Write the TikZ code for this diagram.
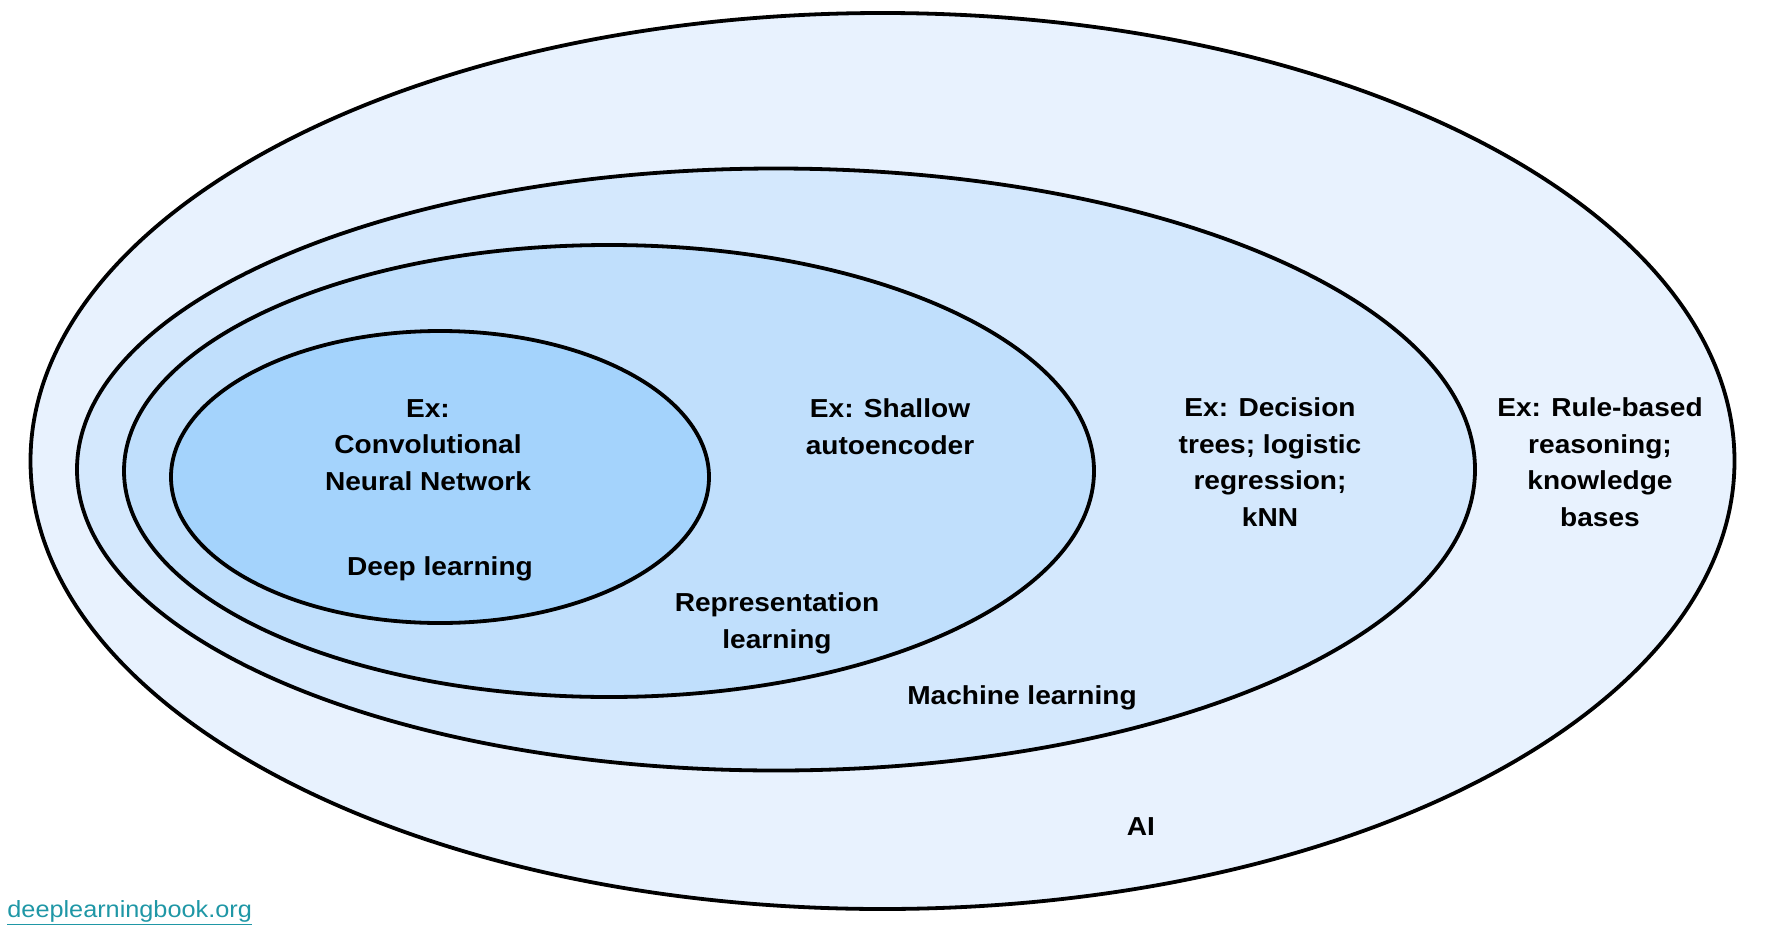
\documentclass[tikz,border=0pt]{standalone}
\usepackage{fontspec}
\setmainfont{Liberation Sans}[FakeStretch=1.08]
\usetikzlibrary{shapes.geometric}
\definecolor{aiC}{HTML}{E8F2FE}
\definecolor{mlC}{HTML}{D4E8FD}
\definecolor{rlC}{HTML}{C0DFFC}
\definecolor{dlC}{HTML}{A4D3FC}
\definecolor{linkC}{HTML}{1F97A6}
\tikzset{
  x=0.5pt, y=-0.5pt,
  region/.style={ellipse, draw=black, line width=1.9pt, inner sep=0pt, outer sep=0pt},
  lbl/.style={align=center, anchor=base, inner sep=0pt,
    font=\fontsize{13}{18.2}\selectfont\bfseries},
}
\begin{document}
\begin{tikzpicture}
\useasboundingbox (0,0) rectangle (1766,926);
\node[region, fill=aiC, minimum width=852pt, minimum height=448pt] (ai) at (882.5,461) {};
\node[region, fill=mlC, minimum width=699pt, minimum height=301pt] (ml) at (776,469.5) {};
\node[region, fill=rlC, minimum width=485pt, minimum height=226pt] (rl) at (609,471) {};
\node[region, fill=dlC, minimum width=269pt, minimum height=146pt] (dl) at (440,477) {};

\node[lbl] (cnn) at (428,490) {Ex:\\Convolutional\\Neural Network};
\node[lbl] (dlt) at (440,575) {Deep learning};
\node[lbl] (sae) at (890,454) {Ex: Shallow\\autoencoder};
\node[lbl] (rlt) at (777,648) {Representation\\learning};
\node[lbl] (dt) at (1270,526) {Ex: Decision\\trees; logistic\\regression;\\kNN};
\node[lbl] (mlt) at (1022,704) {Machine learning};
\node[lbl] (rb) at (1600,526) {Ex: Rule-based\\reasoning;\\knowledge\\bases};
\node[lbl] (ait) at (1141,835) {AI};
\node[anchor=base west, inner sep=0pt, text=linkC, font=\fontsize{11.7}{14}\selectfont] (url) at (7,917) {\underline{deeplearningbook.org}};
\end{tikzpicture}
\end{document}
